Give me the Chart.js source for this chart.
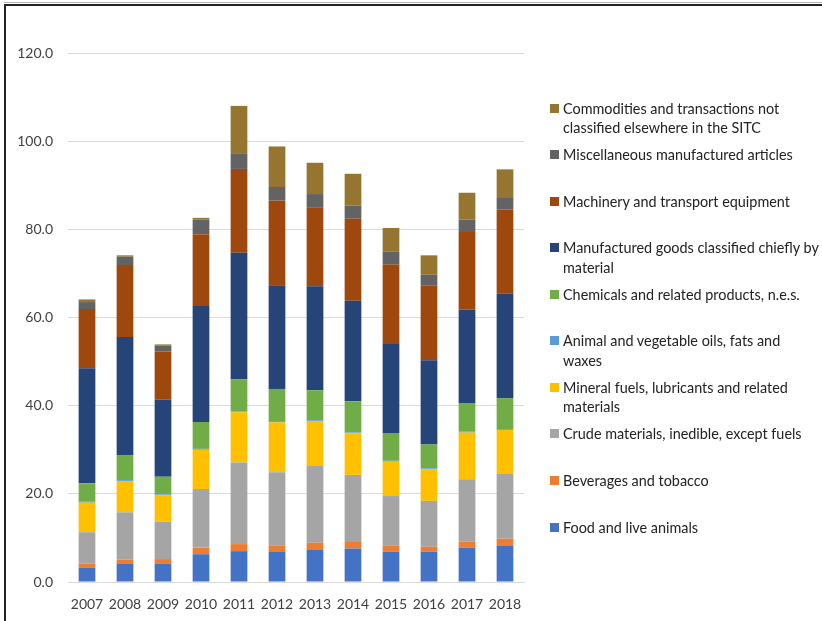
<!DOCTYPE html>
<html>
<head>
<meta charset="utf-8">
<title>Exports by SITC section, 2007-2018</title>
<script src="https://cdn.jsdelivr.net/npm/chart.js@4/dist/chart.umd.min.js"></script>
<style>
    body { margin: 0; background: #ffffff; }
    #wrap { position: relative; width: 822px; height: 621px; overflow: hidden; }
    #chart_trade { position: absolute; left: 0; top: 0; }
    #frame { position: absolute; left: 4px; top: 4px; width: 830px; height: 640px;
             border-top: 2px solid #222222; border-left: 2px solid #222222; }
    #frame_shade { position: absolute; left: 4px; top: 2px; width: 830px; height: 1px; background: #b0b0b0; }
    .leg_item { position: absolute; left: 550px; width: 272px; font-family: Lato, "Open Sans", sans-serif;
                font-size: 14.4px; line-height: 19.4px; color: #222222; white-space: nowrap; }
    .leg_box { position: absolute; left: 0; top: 5px; width: 9px; height: 9px; }
    .leg_text { margin-left: 13px; }
</style>
</head>
<body>
<div id="wrap">
    <canvas id="chart_trade" width="822" height="621"></canvas>
    <div id="frame_shade"></div>
    <div id="frame"></div>
    <div id="legend"></div>
</div>
<script>
var DebugMode = true;

// years on the x axis
var years = ["2007", "2008", "2009", "2010", "2011", "2012", "2013", "2014", "2015", "2016", "2017", "2018"];

// y axis ticks
var y_ticks = [0, 20, 40, 60, 80, 100, 120];

// SITC sections, bottom of the stack first
var sitc_names = [
    "Food and live animals",
    "Beverages and tobacco",
    "Crude materials, inedible, except fuels",
    "Mineral fuels, lubricants and related materials",
    "Animal and vegetable oils, fats and waxes",
    "Chemicals and related products, n.e.s.",
    "Manufactured goods classified chiefly by material",
    "Machinery and transport equipment",
    "Miscellaneous manufactured articles",
    "Commodities and transactions not classified elsewhere in the SITC"
];

// values per section, one per year
var food_animals      = [3.2, 4.1, 4.2, 6.3, 7.0, 6.8, 7.4, 7.6, 6.9, 6.9, 7.8, 8.3];
var beverages_tobacco = [1.0, 1.0, 1.0, 1.5, 1.6, 1.5, 1.5, 1.5, 1.3, 1.1, 1.4, 1.5];
var crude_materials   = [7.1, 10.7, 8.5, 13.3, 18.5, 16.6, 17.4, 15.2, 11.3, 10.4, 14.1, 14.7];
var mineral_fuels     = [6.7, 7.1, 6.0, 8.9, 11.4, 11.3, 10.2, 9.4, 7.8, 7.2, 10.6, 10.0];
var oils_fats         = [0.2, 0.2, 0.2, 0.2, 0.2, 0.3, 0.2, 0.2, 0.2, 0.2, 0.2, 0.2];
var chemicals         = [4.2, 5.7, 4.0, 6.1, 7.3, 7.3, 6.8, 7.1, 6.3, 5.4, 6.5, 7.0];
var manufactured      = [26.1, 26.8, 17.5, 26.3, 28.7, 23.5, 23.6, 22.8, 20.2, 19.1, 21.2, 23.7];
var machinery         = [13.4, 16.3, 10.9, 16.3, 19.0, 19.2, 17.9, 18.6, 18.0, 16.9, 17.6, 19.1];
var misc_articles     = [1.6, 1.9, 1.3, 3.3, 3.4, 3.1, 3.0, 3.0, 2.9, 2.5, 2.8, 2.8];
var commodities_nes   = [0.6, 0.3, 0.3, 0.4, 10.9, 9.2, 7.1, 7.2, 5.4, 4.4, 6.1, 6.3];

var sitc_values = [food_animals, beverages_tobacco, crude_materials, mineral_fuels, oils_fats,
                   chemicals, manufactured, machinery, misc_articles, commodities_nes];

var sitc_colors = ["#4472C4", "#ED7D31", "#A5A5A5", "#FFC000", "#5B9BD5",
                   "#70AD47", "#264478", "#9E480E", "#636363", "#967530"];

// legend wraps these names onto two lines
var legend_lines = [
    ["Food and live animals"],
    ["Beverages and tobacco"],
    ["Crude materials, inedible, except fuels"],
    ["Mineral fuels, lubricants and related", "materials"],
    ["Animal and vegetable oils, fats and", "waxes"],
    ["Chemicals and related products, n.e.s."],
    ["Manufactured goods classified chiefly by", "material"],
    ["Machinery and transport equipment"],
    ["Miscellaneous manufactured articles"],
    ["Commodities and transactions not", "classified elsewhere in the SITC"]
];

function ExceptionHandler(e) {
    if (DebugMode) {
        console.log(e.name + " :: " + e.message);
    }
    throw e;
}

function BuildDatasets() {
    var sets = [];
    for (var i = 0; i < sitc_names.length; i++) {
        sets.push({
            label: sitc_names[i],
            data: sitc_values[i],
            backgroundColor: sitc_colors[i],
            borderWidth: 0,
            barPercentage: 0.44,
            categoryPercentage: 1.0
        });
    }
    return sets;
}

// legend on the right, top of the stack listed first
function DrawLegend() {
    var box = document.getElementById("legend");
    var top_first = 98.6;
    var step = 46.55;
    var row = 0;
    for (var i = sitc_names.length - 1; i >= 0; i--) {
        var item = document.createElement("div");
        item.className = "leg_item";
        item.style.top = (top_first + row * step) + "px";
        var sw = document.createElement("div");
        sw.className = "leg_box";
        sw.style.background = sitc_colors[i];
        var txt = document.createElement("div");
        txt.className = "leg_text";
        txt.innerHTML = legend_lines[i].join("<br>");
        item.appendChild(sw);
        item.appendChild(txt);
        box.appendChild(item);
        row++;
    }
}

function DrawTradeChart() {
    try {
        var tick_font = { family: "Lato, 'Open Sans', sans-serif", size: 14 };
        new Chart(document.getElementById("chart_trade"), {
            type: "bar",
            data: {
                labels: years,
                datasets: BuildDatasets()
            },
            options: {
                responsive: false,
                animation: false,
                devicePixelRatio: 1,
                layout: { padding: { left: 0, right: 298, top: 53, bottom: 0 } },
                plugins: {
                    legend: { display: false },
                    tooltip: { enabled: false }
                },
                scales: {
                    x: {
                        stacked: true,
                        grid: { display: false, drawTicks: false },
                        border: { display: true, color: "#d9d9d9", width: 1 },
                        ticks: { color: "#404040", font: tick_font, padding: 14, maxRotation: 0 },
                        afterFit: function (scale) { scale.height = 39; }
                    },
                    y: {
                        stacked: true,
                        min: 0,
                        max: 120,
                        afterBuildTicks: function (scale) {
                            scale.ticks = y_ticks.map(function (v) { return { value: v }; });
                        },
                        grid: { color: "#d9d9d9", lineWidth: 1, drawTicks: false },
                        border: { display: false },
                        ticks: {
                            color: "#404040",
                            font: tick_font,
                            padding: 15,
                            callback: function (v) { return Number(v).toFixed(1); }
                        },
                        afterFit: function (scale) { scale.width = 68; }
                    }
                }
            }
        });
    }
    catch (e) {
        ExceptionHandler(e);
    }
}

DrawTradeChart();
DrawLegend();
</script>
</body>
</html>
